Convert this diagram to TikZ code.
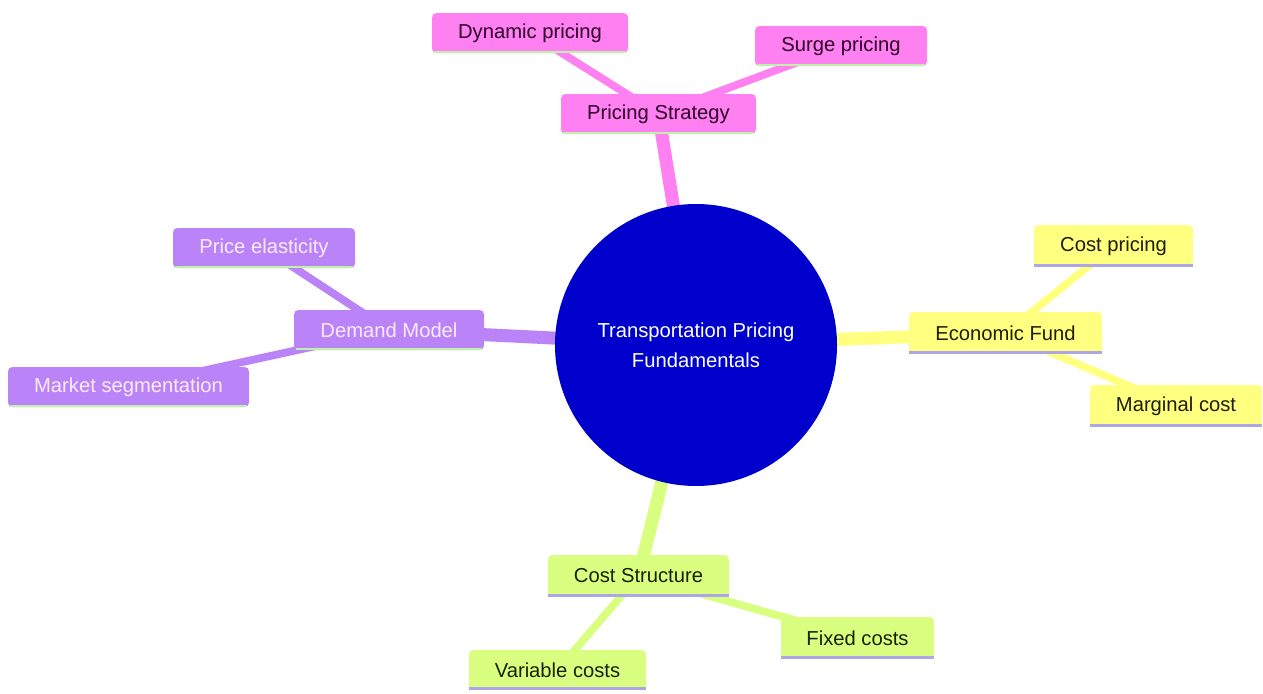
\documentclass[tikz,border=0pt]{standalone}
\usepackage{fontspec}
\setmainfont{Liberation Sans}
\definecolor{pinkc}{RGB}{255,128,240}
\definecolor{purpc}{RGB}{186,131,248}
\definecolor{yelc}{RGB}{255,255,128}
\definecolor{grnc}{RGB}{218,255,128}
\definecolor{bluec}{RGB}{0,0,204}
\definecolor{lgreen}{RGB}{190,242,170}
\definecolor{lavc}{RGB}{172,165,232}
\definecolor{pinktxt}{RGB}{45,0,40}
\definecolor{purptxt}{RGB}{250,235,250}
\definecolor{yeltxt}{RGB}{30,30,0}
\definecolor{grntxt}{RGB}{20,35,0}
\tikzset{
  box/.style n args={2}{rectangle, rounded corners=2.5pt, inner sep=0pt,
    minimum width=#1*0.02cm, minimum height=#2*0.02cm,
    font=\fontsize{11.5}{14}\selectfont},
  pinkbox/.style={fill=pinkc, text=pinktxt},
  purpbox/.style={fill=purpc, text=purptxt},
  yelbox/.style={fill=yelc, text=yeltxt},
  grnbox/.style={fill=grnc, text=grntxt},
  mainedge/.style={line width=7.4pt},
  subedge/.style={line width=4.4pt},
}
\begin{document}
\begin{tikzpicture}[x=0.02cm,y=-0.02cm]
\useasboundingbox[fill=white] (0,0) rectangle (1263,693);
\path
  (696,345) coordinate (c0)
  (658.5,114) coordinate (cps)
  (530,33) coordinate (cdp)
  (841,46) coordinate (csp)
  (389,330) coordinate (cdm)
  (264,248) coordinate (cpe)
  (128.5,387) coordinate (cms)
  (1005.5,333) coordinate (cef)
  (1113.5,246) coordinate (ccp)
  (1176,406) coordinate (cmc)
  (638.5,576) coordinate (ccs)
  (557.5,670) coordinate (cvc)
  (857.5,638) coordinate (cfc);
% edges
\draw[mainedge, pinkc] (c0) -- (cps);
\draw[subedge, pinkc] (cps) -- (cdp);
\draw[subedge, pinkc] (cps) -- (csp);
\draw[mainedge, purpc] (c0) -- (cdm);
\draw[subedge, purpc] (cdm) -- (cpe);
\draw[subedge, purpc] (cdm) -- (cms);
\draw[mainedge, yelc] (c0) -- (cef);
\draw[subedge, yelc] (cef) -- (ccp);
\draw[subedge, yelc] (cef) -- (cmc);
\draw[mainedge, grnc] (c0) -- (ccs);
\draw[subedge, grnc] (ccs) -- (cvc);
\draw[subedge, grnc] (ccs) -- (cfc);
% center
\node[circle, fill=bluec, text=white, minimum size=282*0.02cm, inner sep=0pt,
  align=center, font=\fontsize{11.5}{17}\selectfont] (root) at (c0)
  {Transportation Pricing\\Fundamentals};
% pink
\node[box={195}{40}, pinkbox] (ps) at (cps) {Pricing Strategy};
\node[box={196}{40}, pinkbox] (dp) at (cdp) {Dynamic pricing};
\node[box={172}{40}, pinkbox] (sp) at (csp) {Surge pricing};
% purple
\node[box={190}{40}, purpbox] (dm) at (cdm) {Demand Model};
\node[box={182}{40}, purpbox] (pe) at (cpe) {Price elasticity};
\node[box={241}{40}, purpbox] (ms) at (cms) {Market segmentation};
% yellow
\node[box={193}{42}, yelbox] (ef) at (cef) {Economic Fund};
\node[box={159}{42}, yelbox] (cp) at (ccp) {Cost pricing};
\node[box={172}{42}, yelbox] (mc) at (cmc) {Marginal cost};
% green
\node[box={181}{42}, grnbox] (cs) at (ccs) {Cost Structure};
\node[box={177}{40}, grnbox] (vc) at (cvc) {Variable costs};
\node[box={153}{42}, grnbox] (fc) at (cfc) {Fixed costs};
% bottom lines
\foreach \n in {ps,dp,sp,dm,pe,ms}
  \draw[lgreen, line width=1.2pt] ([xshift=1.5pt,yshift=0.6pt]\n.south west) -- ([xshift=-1.5pt,yshift=0.6pt]\n.south east);
\foreach \n in {ef,cp,mc,cs,vc,fc}
  \draw[lavc, line width=1.7pt] ([yshift=0.85pt]\n.south west) -- ([yshift=0.85pt]\n.south east);
\end{tikzpicture}
\end{document}
